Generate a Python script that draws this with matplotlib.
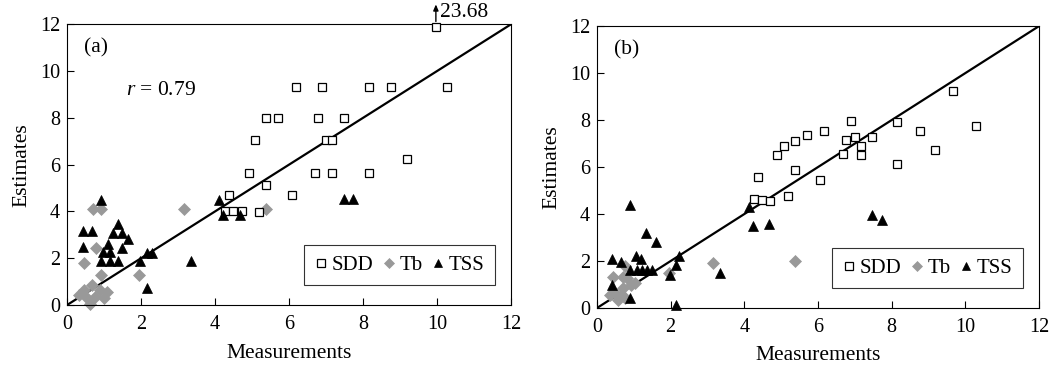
import numpy as np
import matplotlib
matplotlib.use("Agg")
import matplotlib.pyplot as plt

plt.rcParams["font.family"] = ["Liberation Serif", "DejaVu Serif"]
plt.rcParams["mathtext.fontset"] = "custom"
plt.rcParams["mathtext.rm"] = "Liberation Serif"
plt.rcParams["mathtext.it"] = "Liberation Serif:italic"

# ---- panel (a) ----
a_sdd_meas = [9.97, 6.18, 6.90, 8.16, 8.77, 10.27, 5.39, 5.69, 6.78, 7.48, 5.07, 6.99, 7.17,
              4.91, 6.69, 7.17, 8.16, 9.19, 5.39, 4.39, 6.07, 4.27, 4.48, 4.73, 5.18]
a_sdd_est = [23.68, 9.30, 9.30, 9.30, 9.30, 9.30, 8.01, 8.01, 8.01, 8.01, 7.04, 7.04, 7.04,
             5.66, 5.66, 5.66, 5.66, 6.23, 5.13, 4.70, 4.70, 4.00, 4.00, 4.00, 3.97]
a_tb_meas = [0.70, 0.93, 3.17, 5.39, 0.78, 0.45, 0.93, 1.94, 0.45, 0.68, 0.90, 1.08,
             0.54, 0.77, 0.99, 0.63, 0.32]
a_tb_est = [4.12, 4.12, 4.12, 4.12, 2.43, 1.79, 1.30, 1.30, 0.64, 0.85, 0.64, 0.57,
            0.29, 0.36, 0.29, 0.05, 0.43]
a_tss_meas = [0.93, 0.43, 0.68, 0.43, 1.38, 1.25, 1.50, 1.65, 1.48, 1.11, 0.98, 1.16,
              0.93, 1.16, 1.38, 1.97, 2.15, 2.31, 2.15, 3.35, 4.12, 4.23, 4.68, 7.49, 7.72]
a_tss_est = [4.49, 3.15, 3.15, 2.50, 3.45, 3.10, 3.10, 2.84, 2.42, 2.60, 2.25, 2.25,
             1.88, 1.88, 1.88, 1.88, 2.22, 2.22, 0.72, 1.88, 4.49, 3.85, 3.85, 4.53, 4.53]
a_r = 0.79

# ---- panel (b) ----
b_sdd_meas = [9.66, 6.90, 8.15, 10.28, 8.78, 6.17, 5.69, 5.38, 5.07, 4.90, 6.77, 7.00, 7.47,
              7.17, 7.17, 6.68, 9.18, 8.15, 5.38, 4.38, 6.05, 5.18, 4.26, 4.48, 4.70]
b_sdd_est = [9.25, 7.96, 7.90, 7.75, 7.54, 7.54, 7.38, 7.10, 6.88, 6.52, 7.16, 7.28, 7.28,
             6.88, 6.52, 6.57, 6.73, 6.15, 5.88, 5.57, 5.45, 4.77, 4.65, 4.61, 4.55]
b_tb_meas = [0.44, 0.75, 0.72, 0.81, 0.93, 1.03, 0.49, 0.72, 0.67, 0.76, 0.36, 0.58,
             1.95, 3.15, 5.37]
b_tb_est = [1.34, 1.77, 1.30, 1.27, 0.99, 1.06, 0.64, 0.85, 0.57, 0.42, 0.55, 0.35,
            1.50, 1.91, 2.01]
b_tss_meas = [0.91, 1.34, 1.61, 0.41, 0.66, 1.07, 1.20, 0.91, 1.08, 1.21, 1.35, 1.49,
              2.24, 2.14, 1.97, 3.33, 0.41, 0.91, 2.14, 4.13, 4.24, 4.67, 7.47, 7.73]
b_tss_est = [4.39, 3.19, 2.80, 2.08, 1.95, 2.22, 2.08, 1.63, 1.63, 1.63, 1.63, 1.63,
             2.22, 1.84, 1.39, 1.49, 0.99, 0.42, 0.14, 4.28, 3.50, 3.58, 3.97, 3.73]

ticks = [0, 2, 4, 6, 8, 10, 12]
axis_max = 12
gray = "#999999"

fig = plt.figure(figsize=(10.56, 3.68), dpi=100)
ax_a = fig.add_axes([0.0634, 0.171, 0.4205, 0.763])
ax_b = fig.add_axes([0.5653, 0.163, 0.4186, 0.766])


def draw_panel(ax, sdd_m, sdd_e, tb_m, tb_e, tss_m, tss_e, tag):
    ax.plot([0, axis_max], [0, axis_max], color="black", lw=1.6, zorder=1)
    sdd_e_shown = np.minimum(np.asarray(sdd_e), 11.9)
    ax.plot(sdd_m, sdd_e_shown, ls="none", marker="s", ms=6.4, mfc="white",
            mec="black", mew=0.9, label="SDD", zorder=3, clip_on=False)
    ax.plot(tb_m, tb_e, ls="none", marker="D", ms=5.8, mfc=gray, mec=gray,
            mew=0.5, label="Tb", zorder=2, clip_on=False)
    ax.plot(tss_m, tss_e, ls="none", marker="^", ms=7.8, mfc="black", mec="black",
            mew=0.5, label="TSS", zorder=4, clip_on=False)
    ax.set_xlim(0, axis_max)
    ax.set_ylim(0, axis_max)
    ax.set_xticks(ticks)
    ax.set_yticks(ticks)
    ax.tick_params(direction="in", length=5, width=0.8, labelsize=14.5)
    ax.tick_params(axis="x", pad=7)
    ax.tick_params(axis="y", pad=5)
    for s in ax.spines.values():
        s.set_linewidth(0.8)
    ax.set_xlabel("Measurements", fontsize=15.5, labelpad=7)
    ax.set_ylabel("Estimates", fontsize=15.5, labelpad=6)
    ax.text(0.45, 11.0, tag, fontsize=15.5, va="center", ha="left")
    leg = ax.legend(loc="lower right", bbox_to_anchor=(0.963, 0.07), ncol=3,
                    fontsize=15, frameon=True, fancybox=False, edgecolor="black",
                    handlelength=0.6, handletextpad=0.2, columnspacing=0.45,
                    borderpad=0.5, borderaxespad=0.0, markerscale=0.8)
    leg.get_frame().set_linewidth(0.8)


draw_panel(ax_a, a_sdd_meas, a_sdd_est, a_tb_meas, a_tb_est, a_tss_meas, a_tss_est, "(a)")
draw_panel(ax_b, b_sdd_meas, b_sdd_est, b_tb_meas, b_tb_est, b_tss_meas, b_tss_est, "(b)")

ax_a.text(1.6, 9.15, "$r$ = %.2f" % a_r, fontsize=15.5, va="center", ha="left")

# off-scale SDD estimate: value printed above the clipped marker
i_top = int(np.argmax(a_sdd_est))
ax_a.annotate("", xy=(a_sdd_meas[i_top], 12.85), xytext=(a_sdd_meas[i_top], 12.12),
              annotation_clip=False,
              arrowprops=dict(arrowstyle="-|>,head_length=0.35,head_width=0.15",
                              color="black", lw=1.0, shrinkA=0, shrinkB=0))
ax_a.text(a_sdd_meas[i_top] + 0.1, 12.5, "%.2f" % a_sdd_est[i_top], fontsize=15.5,
          va="center", ha="left", clip_on=False)

fig.savefig("out.png", dpi=100)
